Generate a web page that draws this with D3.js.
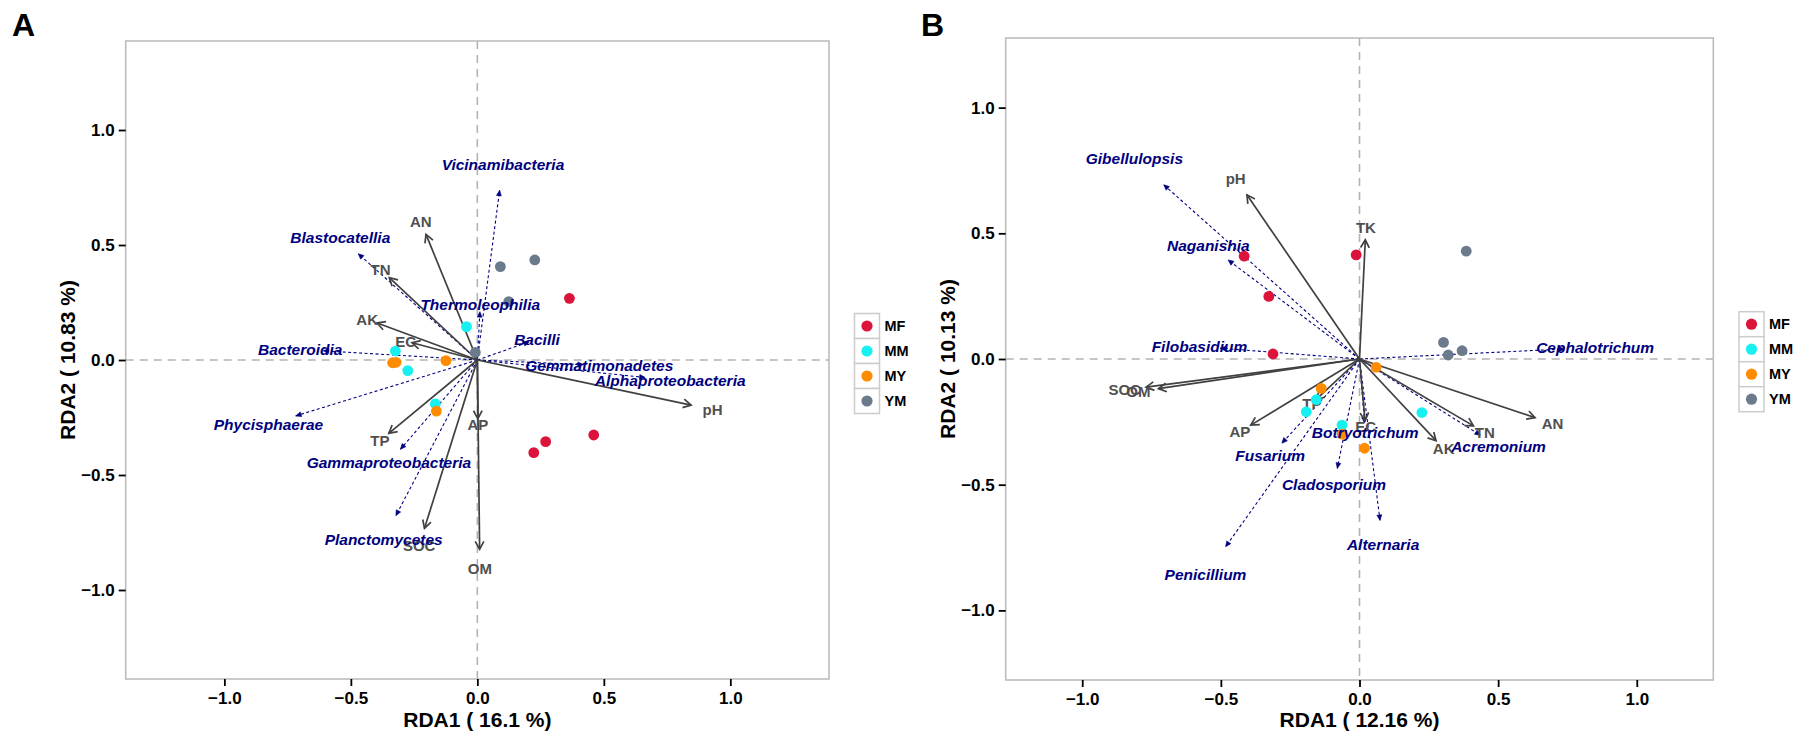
<!DOCTYPE html>
<html><head><meta charset="utf-8">
<script src="https://cdn.jsdelivr.net/npm/d3@7/dist/d3.min.js"></script>
<style>
html,body{margin:0;padding:0;background:#fff;}
svg{display:block;font-family:"Liberation Sans",Arial,Helvetica,sans-serif;}
</style></head>
<body>
<svg id="chart" width="1795" height="734"></svg>
<script>
// ---------- data ----------
const groups = ["MF","MM","MY","YM"];
const groupColors = ["#dc143c","#17f0f0","#ff8c00","#6b7b8c"];
const tickValues = [-1.0,-0.5,0.0,0.5,1.0];

// Panel A (bacteria)
const titleXA = "RDA1 ( 16.1 %)";
const titleYA = "RDA2 ( 10.83 %)";
const sitesA = [
  ["MF",0.364,0.268],["MF",0.46,-0.326],["MF",0.27,-0.355],["MF",0.223,-0.403],
  ["MM",-0.043,0.145],["MM",-0.324,0.039],["MM",-0.275,-0.046],["MM",-0.166,-0.191],
  ["MY",-0.321,-0.01],["MY",-0.335,-0.012],["MY",-0.124,-0.003],["MY",-0.162,-0.222],
  ["YM",0.091,0.406],["YM",0.227,0.435],["YM",0.124,0.254],["YM",-0.008,0.033]
];
const envA = [
  ["pH",0.845,-0.196],["AN",-0.203,0.546],["TN",-0.348,0.358],["AK",-0.396,0.161],
  ["EC",-0.258,0.075],["TP",-0.35,-0.319],["AP",0.002,-0.255],["SOC",-0.209,-0.732],
  ["OM",0.009,-0.823]
];
const speciesA = [
  ["Vicinamibacteria",0.088,0.738],["Blastocatellia",-0.471,0.462],
  ["Thermoleophilia",0.01,0.21],["Bacilli",0.205,0.079],
  ["Gemmatimonadetes",0.419,-0.02],["Alphaproteobacteria",0.663,-0.076],
  ["Bacteroidia",-0.609,0.04],["Phycisphaerae",-0.718,-0.243],
  ["Gammaproteobacteria",-0.304,-0.388],["Planctomycetes",-0.322,-0.677]
];

// Panel B (fungi)
const titleXB = "RDA1 ( 12.16 %)";
const titleYB = "RDA2 ( 10.13 %)";
const sitesB = [
  ["MF",-0.416,0.409],["MF",-0.327,0.249],["MF",-0.012,0.414],["MF",-0.312,0.02],
  ["MM",-0.156,-0.162],["MM",-0.192,-0.21],["MM",-0.063,-0.263],["MM",0.225,-0.213],
  ["MY",-0.138,-0.117],["MY",-0.063,-0.299],["MY",0.018,-0.355],["MY",0.06,-0.033],
  ["YM",0.385,0.429],["YM",0.303,0.066],["YM",0.37,0.033],["YM",0.32,0.016]
];
const envB = [
  ["pH",-0.406,0.653],["TK",0.021,0.474],["SOC",-0.77,-0.112],["OM",-0.725,-0.118],
  ["AP",-0.392,-0.263],["TP",-0.156,-0.161],["EC",0.02,-0.245],["AK",0.276,-0.325],
  ["TN",0.411,-0.266],["AN",0.633,-0.233]
];
const speciesB = [
  ["Gibellulopsis",-0.706,0.693],["Naganishia",-0.474,0.394],
  ["Filobasidium",-0.502,0.043],["Cephalotrichum",0.739,0.04],
  ["Botryotrichum",0.018,-0.254],["Fusarium",-0.28,-0.335],
  ["Cladosporium",-0.08,-0.435],["Alternaria",0.074,-0.642],
  ["Penicillium",-0.483,-0.747],["Acremonium",0.436,-0.303]
];

// ---------- drawing ----------
const svg = d3.select("#chart");
const color = d3.scaleOrdinal().domain(groups).range(groupColors);
const fmt = v => d3.format(".1f")(v).replace("-", "\u2212");

function arrowHead(g, x1, y1, x2, y2, len, half, filled, col, w) {
  const a = Math.atan2(y2 - y1, x2 - x1);
  const p1 = [x2 - len*Math.cos(a - half), y2 - len*Math.sin(a - half)];
  const p2 = [x2 - len*Math.cos(a + half), y2 - len*Math.sin(a + half)];
  if (filled) {
    g.append("path").attr("d", `M${p1}L${x2},${y2}L${p2}Z`).attr("fill", col).attr("stroke", col).attr("stroke-width", 0.6);
  } else {
    g.append("path").attr("d", `M${p1}L${x2},${y2}L${p2}`).attr("fill", "none")
      .attr("stroke", col).attr("stroke-width", w).attr("stroke-linejoin","miter");
  }
}

function panel(opt) {
  const {left, right, top, bottom, dx, dy, sites, env, species, tx, ty, tyX, letter, letterX, legendX, legendY} = opt;
  const x = d3.scaleLinear().domain([-dx, dx]).range([left, right]);
  const y = d3.scaleLinear().domain([-dy, dy]).range([bottom, top]);
  const g = svg.append("g");

  // zero reference lines
  g.append("line").attr("x1", left).attr("x2", right).attr("y1", y(0)).attr("y2", y(0))
    .attr("stroke", "#b3b3b3").attr("stroke-width", 1.6).attr("stroke-dasharray", "8,6");
  g.append("line").attr("y1", top).attr("y2", bottom).attr("x1", x(0)).attr("x2", x(0))
    .attr("stroke", "#b3b3b3").attr("stroke-width", 1.6).attr("stroke-dasharray", "8,6");

  // species arrows (dashed navy)
  species.forEach(d => {
    const x1 = x(0), y1 = y(0), x2 = x(d[1]), y2 = y(d[2]);
    g.append("line").attr("x1", x1).attr("y1", y1).attr("x2", x2).attr("y2", y2)
      .attr("stroke", "#000080").attr("stroke-width", 1.1).attr("stroke-dasharray", "3,2.5");
    arrowHead(g, x1, y1, x2, y2, 6, 0.42, true, "#000080", 1);
  });
  // env arrows (solid grey)
  env.forEach(d => {
    const x1 = x(0), y1 = y(0), x2 = x(d[1]), y2 = y(d[2]);
    g.append("line").attr("x1", x1).attr("y1", y1).attr("x2", x2).attr("y2", y2)
      .attr("stroke", "#404040").attr("stroke-width", 1.7);
    arrowHead(g, x1, y1, x2, y2, 9, 0.5, false, "#404040", 1.7);
  });
  // env labels
  g.selectAll(".envlab").data(env).enter().append("text")
    .attr("x", d => x(d[1]*1.1)).attr("y", d => y(d[2]*1.1))
    .attr("text-anchor", "middle").attr("dominant-baseline", "central")
    .attr("font-size", 15).attr("font-weight", "bold").attr("fill", "#505050")
    .text(d => d[0]);
  // sites
  g.selectAll(".pt").data(sites).enter().append("circle")
    .attr("cx", d => x(d[1])).attr("cy", d => y(d[2])).attr("r", 5.4)
    .attr("fill", d => color(d[0]));
  // species labels
  g.selectAll(".splab").data(species).enter().append("text")
    .attr("x", d => x(d[1]*1.15)).attr("y", d => y(d[2]*1.15))
    .attr("text-anchor", "middle").attr("dominant-baseline", "central")
    .attr("font-size", 15.5).attr("font-weight", "bold").attr("font-style", "italic")
    .attr("fill", "#000080").text(d => d[0]);

  // frame
  g.append("rect").attr("x", left).attr("y", top).attr("width", right - left).attr("height", bottom - top)
    .attr("fill", "none").attr("stroke", "#bdbdbd").attr("stroke-width", 1.6);

  // axes
  const ax = g.append("g").attr("transform", `translate(0,${bottom})`)
    .call(d3.axisBottom(x).tickValues(tickValues).tickFormat(fmt).tickSize(7).tickPadding(6));
  const ay = g.append("g").attr("transform", `translate(${left},0)`)
    .call(d3.axisLeft(y).tickValues(tickValues).tickFormat(fmt).tickSize(7).tickPadding(4));
  [ax, ay].forEach(a => {
    a.select(".domain").remove();
    a.selectAll(".tick line").attr("stroke", "#000").attr("stroke-width", 1.8);
    a.selectAll(".tick text").attr("font-size", 17).attr("font-weight", "bold").attr("fill", "#000")
      .attr("font-family", "'Liberation Sans',Arial,sans-serif");
  });

  // titles
  g.append("text").attr("x", (left + right)/2).attr("y", 727).attr("text-anchor", "middle")
    .attr("font-size", 21).attr("font-weight", "bold").attr("fill", "#000").text(tx);
  g.append("text").attr("transform", `translate(${tyX},${(top + bottom)/2}) rotate(-90)`)
    .attr("text-anchor", "middle").attr("font-size", 21).attr("font-weight", "bold").attr("fill", "#000").text(ty);
  g.append("text").attr("x", letterX).attr("y", 36).attr("font-size", 32).attr("font-weight", "bold")
    .attr("fill", "#000").text(letter);

  // legend
  const lg = g.append("g").attr("transform", `translate(${legendX},${legendY})`);
  groups.forEach((gr, i) => {
    lg.append("rect").attr("x", 0).attr("y", i*25).attr("width", 25).attr("height", 25)
      .attr("fill", "#fff").attr("stroke", "#cccccc").attr("stroke-width", 1.5);
    lg.append("circle").attr("cx", 12.5).attr("cy", i*25 + 12.5).attr("r", 5.6).attr("fill", color(gr));
    lg.append("text").attr("x", 30).attr("y", i*25 + 12.5).attr("dominant-baseline", "central")
      .attr("font-size", 14.5).attr("font-weight", "bold").attr("fill", "#000").text(gr);
  });
}

panel({left:125.7, right:829, top:41, bottom:679, dx:1.39, dy:1.387,
  sites:sitesA, env:envA, species:speciesA, tx:titleXA, ty:titleYA, tyX:75,
  letter:"A", letterX:12, legendX:854.5, legendY:313.5});
panel({left:1005.7, right:1713.3, top:38, bottom:680, dx:1.276, dy:1.277,
  sites:sitesB, env:envB, species:speciesB, tx:titleXB, ty:titleYB, tyX:955,
  letter:"B", letterX:921, legendX:1739, legendY:311.7});
</script>
</body></html>
